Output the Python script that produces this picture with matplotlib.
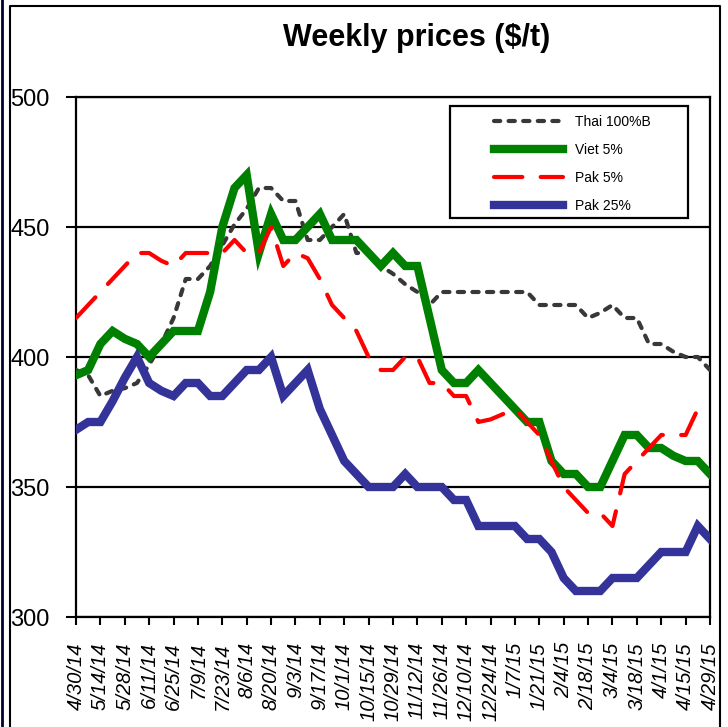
import numpy as np
import matplotlib
matplotlib.use("Agg")
import matplotlib.pyplot as plt
from matplotlib.patches import Rectangle
from matplotlib.lines import Line2D

# weekly dates, one tick label every two weeks
tick_labels = ['4/30/14', '5/14/14', '5/28/14', '6/11/14', '6/25/14', '7/9/14', '7/23/14',
               '8/6/14', '8/20/14', '9/3/14', '9/17/14', '10/1/14', '10/15/14', '10/29/14',
               '11/12/14', '11/26/14', '12/10/14', '12/24/14', '1/7/15', '1/21/15', '2/4/15',
               '2/18/15', '3/4/15', '3/18/15', '4/1/15', '4/15/15', '4/29/15']

thai_100b = [395, 393, 385, 387, 388, 390, 397, 405, 415, 430, 430, 435, 443, 451, 457, 465, 465,
             460, 460, 445, 445, 450, 455, 440, 440, 435, 432, 428, 425, 420, 425, 425, 425, 425,
             425, 425, 425, 425, 420, 420, 420, 420, 415, 417, 420, 415, 415, 405, 405, 402, 400,
             400, 395]
viet_5 = [393, 395, 405, 410, 407, 405, 400, 405, 410, 410, 410, 425, 450, 465, 470, 440, 455,
          445, 445, 450, 455, 445, 445, 445, 440, 435, 440, 435, 435, 415, 395, 390, 390, 395,
          390, 385, 380, 375, 375, 360, 355, 355, 350, 350, 360, 370, 370, 365, 365, 362, 360,
          360, 355]
pak_5 = [415, 420, 425, 430, 435, 440, 440, 437, 435, 440, 440, 440, 440, 445, 440, 440, 450,
         435, 440, 438, 430, 420, 415, 410, 400, 395, 395, 400, 400, 390, 390, 385, 385, 375,
         376, 378, 380, 375, 370, 360, 350, 345, 340, 340, 335, 355, 360, 365, 370, 370, 370,
         380, 380]
pak_25 = [372, 375, 375, 383, 392, 400, 390, 387, 385, 390, 390, 385, 385, 390, 395, 395, 400,
          385, 390, 395, 380, 370, 360, 355, 350, 350, 350, 355, 350, 350, 350, 345, 345, 335,
          335, 335, 335, 330, 330, 325, 315, 310, 310, 310, 315, 315, 315, 320, 325, 325, 325,
          335, 330]

plt.rcParams['font.family'] = ['Liberation Sans', 'DejaVu Sans']

W, H = 728, 727
fig = plt.figure(figsize=(W / 100, H / 100), dpi=100)
ax = fig.add_axes([76 / W, 1 - 617 / H, (710 - 76) / W, (617 - 97) / H])

weeks = np.arange(len(viet_5))

ax.plot(weeks, thai_100b, color='#383838', lw=3, dashes=(1.5, 2.0),
        dash_capstyle='round', label='Thai 100%B', zorder=3)
ax.plot(weeks, viet_5, color='#008000', lw=6, solid_joinstyle='miter', label='Viet 5%', zorder=4)
ax.plot(weeks, pak_5, color='#ff0000', lw=3, dashes=(6.8, 4.4),
        dash_capstyle='round', label='Pak 5%', zorder=5)
ax.plot(weeks, pak_25, color='#333399', lw=6, solid_joinstyle='miter', label='Pak 25%', zorder=6)

ax.set_xlim(0, 52)
ax.set_ylim(300, 500)
ax.set_yticks([300, 350, 400, 450, 500])
ax.set_xticks(np.arange(0, 53, 2))
ax.set_xticklabels(tick_labels, rotation=90, fontstyle='italic', fontsize=14.5)
ax.set_yticklabels(['300', '350', '400', '450', '500'], fontsize=17)
ax.tick_params(axis='y', length=7, width=1.5, pad=12)
ax.tick_params(axis='x', length=6, width=1.5, pad=12)

ax.yaxis.grid(True, color='black', lw=1.6, zorder=1)
ax.set_axisbelow(True)
for s in ax.spines.values():
    s.set_linewidth(1.6)

# legend with a hand drawn frame
ax.add_patch(Rectangle(((450 - 76) / 634, (617 - 218) / 520), (688 - 450) / 634, (218 - 106) / 520,
                       transform=ax.transAxes, fill=True, facecolor='white', edgecolor='black',
                       lw=1.6, zorder=7))
leg = ax.legend(loc='upper left', bbox_to_anchor=((494 - 76) / 634, (617 - 115) / 520),
                frameon=False, borderpad=0, borderaxespad=0, handlelength=4.95,
                handletextpad=0.85, labelspacing=1.0, prop={'size': 10})
leg.set_zorder(8)

fig.text(417 / W, 1 - 38 / H, 'Weekly prices ($/t)', ha='center', va='center',
         fontsize=22, fontweight='bold')

# outer chart frame
fig.add_artist(Line2D([10 / W, 10 / W, 720 / W, 720 / W], [0, 1 - 6 / H, 1 - 6 / H, 0],
                      transform=fig.transFigure, color='black', lw=1.5))
fig.add_artist(Line2D([1.5 / W, 1.5 / W], [0, 1], transform=fig.transFigure,
                      color='#000033', lw=2))

fig.savefig('out.png', dpi=100)
